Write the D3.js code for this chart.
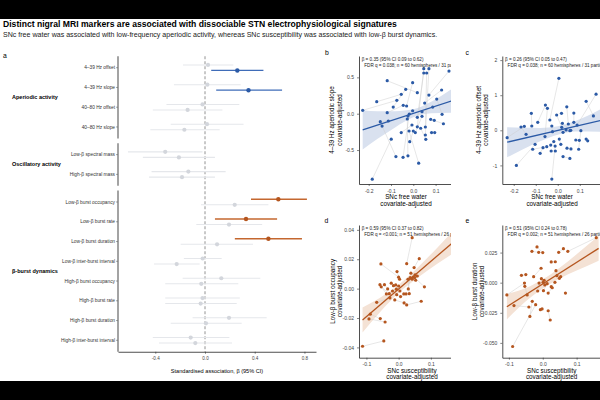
<!DOCTYPE html>
<html>
<head>
<meta charset="utf-8">
<script src="https://cdn.jsdelivr.net/npm/d3@7"></script>
<style>
  body { margin: 0; background: #fff; }
  svg { display: block; font-family: "Liberation Sans", Arial, Helvetica, sans-serif; }
</style>
</head>
<body>
<div id="chart"></div>
<script>
// Data: forest plot (panel a)
// ==============================================================================
var rowLabels = ["4–39 Hz offset", "4–39 Hz slope", "40–80 Hz offset", "40–80 Hz slope",
  "Low-β spectral mass", "High-β spectral mass",
  "Low-β burst occupancy", "Low-β burst rate", "Low-β burst duration", "Low-β inter-burst interval",
  "High-β burst occupancy", "High-β burst rate", "High-β burst duration", "High-β inter-burst interval"];
var rowGroup = [0, 0, 0, 0, 1, 1, 2, 2, 2, 2, 2, 2, 2, 2];
var groupLabels = ["Aperiodic activity", "Oscillatory activity", "β-burst dynamics"];

// SNc susceptibility (upper of each pair)
var suscEst = [0.024, 0.019, -0.02, 0.016, -0.32, -0.134, 0.59, 0.33, 0.51, -0.019, 0.131, -0.02, 0.193, -0.115];
var suscLo  = [-0.177, -0.25, -0.31, -0.276, -0.62, -0.43, 0.37, 0.08, 0.24, -0.17, -0.18, -0.32, -0.10, -0.42];
var suscHi  = [0.228, 0.287, 0.276, 0.31, -0.02, 0.166, 0.82, 0.58, 0.78, 0.134, 0.445, 0.28, 0.496, 0.196];
var suscSig = [0, 0, 0, 0, 0, 0, 1, 1, 1, 0, 0, 0, 0, 0];

// SNc free water (lower of each pair)
var fwEst = [0.26, 0.35, -0.14, -0.166, -0.21, -0.185, 0.239, 0.193, 0.097, -0.228, -0.03, -0.035, 0.008, -0.078];
var fwLo  = [0.05, 0.09, -0.42, -0.44, -0.50, -0.45, -0.032, -0.07, -0.196, -0.41, -0.32, -0.32, -0.276, -0.37];
var fwHi  = [0.47, 0.62, 0.14, 0.118, 0.08, 0.08, 0.51, 0.46, 0.386, -0.043, 0.268, 0.255, 0.295, 0.217];
var fwSig = [1, 1, 0, 0, 0, 0, 0, 0, 0, 0, 0, 0, 0, 0];

var forestTicks = [-0.4, 0, 0.4, 0.8];

// Data: panel b (free water vs 4-39 Hz slope)
// ==============================================================================
var bX = [-0.227, -0.164, -0.117, -0.117, -0.148, -0.14, -0.112, -0.099, -0.09, -0.074, -0.054, -0.045, -0.034, -0.03,
  -0.054, -0.078, -0.046, -0.024, -0.184, -0.018, -0.024, -0.027, -0.019, -0.016, -0.003, -0.003, 0.018, -0.006, 0,
  0.009, 0.024, 0.018, 0.018, 0.033, 0.039, 0.039, 0.047, 0.06, 0.047, 0.07, 0.051, 0.054, 0.054, 0.056, 0.07, 0.078,
  0.087, 0.082, 0.096, 0.094, 0.105, 0.127, 0.129, 0.135, 0.16];
var bY = [0.047, 0.165, 0.454, 0.014, -0.11, -0.17, -0.1, -0.35, 0.092, 0.184, 0.267, 0.116, 0.336, 0.106, -0.26,
  -0.59, -0.6, -0.58, -0.9, -0.004, -0.032, -0.073, -0.238, -0.385, 0.041, 0.427, 0.289, -0.155, -0.238, -0.26, -0.68,
  -0.05, -0.18, -0.2, -0.036, 0.028, 0.56, 0.56, 0.62, 0.62, 0.147, -0.183, -0.293, -0.352, 0.257, -0.077, 0.092,
  -0.26, -0.26, -0.091, 0.202, 0.326, -0.008, -0.138, 0.587];
var bPairs = [[0, 9], [18, 7], [2, 26], [36, 31], [38, 32], [37, 41], [39, 42], [30, 22], [16, 19], [15, 5], [17, 21],
  [54, 44], [25, 13], [11, 3], [10, 1], [47, 48], [45, 53], [50, 52], [33, 43], [35, 46], [40, 51], [24, 20], [23, 28],
  [29, 34], [27, 14], [6, 4], [8, 12]];
var bFitX = [-0.227, 0.17], bFitY = [-0.222, 0.175];
var bBandX  = [-0.227, -0.16, -0.08, 0.0, 0.08, 0.17];
var bBandLo = [-0.492, -0.345, -0.185, -0.05, 0.005, 0.015];
var bBandHi = [0.048, 0.035, 0.035, 0.06, 0.165, 0.335];

// Data: panel c (free water vs 4-39 Hz offset)
// ==============================================================================
var cX = [-0.23, -0.188, -0.167, -0.152, -0.144, -0.12, -0.118, -0.114, -0.103, -0.091, -0.08, -0.067, -0.056, -0.047,
  -0.058, -0.05, -0.036, -0.032, -0.03, -0.027, -0.027, -0.024, -0.018, -0.012, -0.011, -0.005, 0.005, 0.007, 0.014,
  0.017, 0.018, 0.021, 0.024, 0.024, 0.038, 0.041, 0.042, 0.048, 0.055, 0.055, 0.059, 0.06, 0.073, 0.073, 0.082, 0.088,
  0.098, 0.095, 0.105, 0.129, 0.129, 0.136, 0.162, 0.174];
var cY = [-0.21, -1.0, 0.094, 0.114, -0.114, 0.484, 0.122, -0.54, -0.4, 0.228, -0.655, -0.496, 0.72, 0.627, -0.18,
  -0.467, 0.293, -0.42, -0.59, -1.39, 0.122, -0.04, -0.32, -0.45, -0.59, 0.436, 1.48, -0.25, -0.4, 0.484, 0.085, 0.2,
  -0.057, -0.75, 0.01, 0.67, -0.51, 0.18, -0.01, -0.8, 0.0, -0.53, 0.228, 0.49, -0.276, 0.15, -0.285, -0.54, -0.01,
  0.826, -0.25, -0.3, 0.41, 1.03];
var cPairs = [[0, 3], [1, 8], [26, 16], [12, 9], [13, 14], [19, 23], [49, 52], [53, 45], [35, 37], [5, 6], [10, 11],
  [7, 15], [17, 22], [18, 24], [25, 30], [27, 28], [31, 40], [33, 39], [36, 41], [42, 43], [44, 46], [47, 48], [50, 51],
  [32, 34], [20, 21], [2, 4]];
var cFitX = [-0.23, 0.2], cFitY = [-0.34, 0.288];
var cBandX  = [-0.23, -0.16, -0.08, 0.0, 0.08, 0.2];
var cBandLo = [-0.77, -0.548, -0.311, -0.124, -0.037, -0.042];
var cBandHi = [0.09, 0.072, 0.069, 0.116, 0.263, 0.618];

// Data: panel d (susceptibility vs low-beta burst occupancy)
// ==============================================================================
var dX = [-0.112, -0.092, -0.088, -0.068, -0.057, -0.055, -0.058, -0.054, -0.046, -0.042, -0.044, -0.038, -0.034,
  -0.029, -0.027, -0.023, -0.019, -0.016, -0.012, -0.009, -0.007, -0.005, -0.006, 0.0, 0.003, 0.0, 0.004, 0.006, 0.016,
  0.017, 0.023, 0.025, 0.025, 0.029, 0.03, 0.033, 0.036, 0.038, 0.042, 0.042, 0.045, 0.048, 0.05, 0.051, 0.053, 0.058,
  0.064, 0.07, 0.08];
var dY = [-0.0392, -0.0206, -0.0174, -0.0093, -0.0204, 0.0168, 0.0027, 0.0012, -0.0356, -0.0227, 0.0027, -0.0036,
  -0.0002, -0.0034, -0.0063, 0.0037, -0.0016, 0.002, -0.0077, 0.0025, -0.0004, 0.0116, -0.0041, 0.0078, 0.0064, 0.0018,
  -0.0016, -0.0054, -0.0036, -0.0097, -0.0036, 0.017, -0.0111, 0.0064, -0.0002, -0.0034, 0.0075, 0.0105, 0.0347,
  0.0064, 0.0078, 0.0143, 0.0075, 0.0093, 0.0057, 0.0086, 0.0204, -0.0086, 0.0012];
var dPairs = [[0, 8], [5, 23], [38, 31], [46, 41], [2, 4], [1, 9], [3, 14], [6, 11], [7, 13], [10, 12], [15, 17],
  [16, 20], [18, 29], [21, 24], [22, 27], [25, 26], [28, 30], [32, 47], [33, 35], [34, 36], [37, 43], [39, 44], [40, 45],
  [42, 48]];
var dFitX = [-0.112, 0.19], dFitY = [-0.0213, 0.0355];
var dBandX  = [-0.112, -0.06, 0.0, 0.06, 0.12, 0.19];
var dBandLo = [-0.0298, -0.0165, -0.003, 0.0076, 0.0169, 0.027];
var dBandHi = [-0.0128, -0.0065, 0.0026, 0.0146, 0.0279, 0.044];

// Data: panel e (susceptibility vs low-beta burst duration)
// ==============================================================================
var eX = [-0.106, -0.089, -0.085, -0.063, -0.054, -0.053, -0.05, -0.046, -0.041, -0.038, -0.032, -0.031, -0.027,
  -0.021, -0.017, -0.015, -0.012, -0.011, -0.007, -0.005, -0.004, -0.002, 0.0, 0.001, 0.004, 0.006, 0.002, 0.013, 0.016,
  0.016, 0.022, 0.025, 0.025, 0.028, 0.036, 0.037, 0.039, 0.042, 0.047, 0.049, 0.053, 0.061, 0.067, 0.074, 0.158];
var eY = [-0.0102, -0.053, -0.019, 0.0061, -0.0003, -0.003, 0.0067, -0.0102, -0.0202, -0.028, 0.026, -0.0155, 0.005,
  -0.0183, 0.0297, -0.0069, 0.0252, -0.0003, -0.0224, 0.012, 0.0033, -0.0218, 0.025, 0.0003, 0.002, -0.0019, -0.0066,
  -0.0008, -0.0086, -0.0233, -0.031, 0.0172, -0.0033, -0.0042, 0.0003, 0.0174, 0.01, 0.0058, 0.0252, 0.0036, 0.005,
  0.0282, -0.0086, 0.026, 0.0374];
var ePairs = [[1, 13], [0, 4], [10, 16], [14, 22], [44, 43], [38, 41], [35, 31], [2, 8], [3, 6], [5, 7], [9, 11],
  [12, 19], [15, 17], [18, 21], [20, 23], [24, 25], [26, 27], [28, 33], [29, 30], [32, 34], [36, 37], [39, 40]];
var eFitX = [-0.106, 0.165], eFitY = [-0.02, 0.0285];
var eBandX  = [-0.106, -0.05, 0.0, 0.05, 0.1, 0.165];
var eBandLo = [-0.0305, -0.0155, -0.0048, 0.0035, 0.0101, 0.0183];
var eBandHi = [-0.0095, -0.0045, 0.0028, 0.0125, 0.0237, 0.0387];

// Colours
var blue = "#2b5aa6", blueCI = "#3f6cb8", blueBand = "#d9e1ef";
var orange = "#b5561f", orangeCI = "#c4672f", orangeBand = "#f4e2d5";
var grayPt = "#d3d6dc", grayCI = "#e5e7eb";

// Step 1: Set up canvas
// ==============================================================================
var svgWidth = 600, svgHeight = 400;
var svg = d3.select("#chart").append("svg")
  .attr("width", svgWidth)
  .attr("height", svgHeight);

svg.append("rect").attr("width", svgWidth).attr("height", svgHeight).attr("fill", "#fff");

// letterbox bars seen in the figure
svg.append("rect").attr("x", 0).attr("y", 0).attr("width", svgWidth).attr("height", 19).attr("fill", "#000");
svg.append("rect").attr("x", 0).attr("y", 381).attr("width", svgWidth).attr("height", 19).attr("fill", "#000");

// fit a text line to a target width
function fitWidth(sel, target) {
  var len = sel.node().getComputedTextLength();
  var fs = parseFloat(sel.attr("font-size"));
  sel.attr("font-size", fs * target / len);
}

var title = svg.append("text")
  .attr("x", 3).attr("y", 27)
  .attr("font-size", 8.6).attr("font-weight", "bold").attr("fill", "#000")
  .text("Distinct nigral MRI markers are associated with dissociable STN electrophysiological signatures");
fitWidth(title, 394);

var subtitle = svg.append("text")
  .attr("x", 3).attr("y", 36.6)
  .attr("font-size", 6.2).attr("fill", "#222")
  .text("SNc free water was associated with low-frequency aperiodic activity, whereas SNc susceptibility was associated with low-β burst dynamics.");
fitWidth(subtitle, 434);

// panel letters
[["a", 3, 58], ["b", 325, 55], ["c", 465.5, 55], ["d", 324.5, 222.5], ["e", 465.5, 222.5]].forEach(function(p) {
  svg.append("text").attr("x", p[1]).attr("y", p[2]).attr("font-size", 6.8).attr("fill", "#000").text(p[0]);
});

// Step 2: Forest plot (panel a)
// ==============================================================================
var fx = d3.scaleLinear().domain([-0.70, 0.893]).range([118, 316]);
var slot = rowLabels.map(function(d, i) { return i + rowGroup[i] * 0.4; });
var fy = d3.scaleLinear().domain([0, d3.max(slot)]).range([67.7, 340.3]);
var pad = 0.58, dodge = 0.14;
var forestBottom = fy(d3.max(slot) + pad);

var forest = svg.append("g");

// zero reference line
forest.append("line")
  .attr("x1", fx(0)).attr("x2", fx(0))
  .attr("y1", fy(-pad)).attr("y2", forestBottom)
  .attr("stroke", "#777").attr("stroke-width", 0.8).attr("stroke-dasharray", "3,2");

// estimates
var items = [];
rowLabels.forEach(function(lab, i) {
  items.push({ pos: slot[i] - dodge, est: suscEst[i], lo: suscLo[i], hi: suscHi[i], sig: suscSig[i], series: "susc" });
  items.push({ pos: slot[i] + dodge, est: fwEst[i], lo: fwLo[i], hi: fwHi[i], sig: fwSig[i], series: "fw" });
});
items.sort(function(a, b) { return a.sig - b.sig; });

function ciColor(d) { return d.sig ? (d.series === "fw" ? blueCI : orangeCI) : grayCI; }
function ptColor(d) { return d.sig ? (d.series === "fw" ? blue : orange) : grayPt; }

forest.selectAll(".ci").data(items).enter().append("line")
  .attr("x1", function(d) { return fx(d.lo); })
  .attr("x2", function(d) { return fx(d.hi); })
  .attr("y1", function(d) { return fy(d.pos); })
  .attr("y2", function(d) { return fy(d.pos); })
  .attr("stroke", ciColor)
  .attr("stroke-width", function(d) { return d.sig ? 1.3 : 1.1; });

forest.selectAll(".pt").data(items).enter().append("circle")
  .attr("cx", function(d) { return fx(d.est); })
  .attr("cy", function(d) { return fy(d.pos); })
  .attr("r", function(d) { return d.sig ? 2.2 : 2.1; })
  .attr("fill", ptColor);

// y axis, one segment per group
groupLabels.forEach(function(g, gi) {
  var idx = rowGroup.map(function(v, i) { return v === gi ? i : -1; }).filter(function(i) { return i >= 0; });
  var top = fy(slot[idx[0]] - pad);
  var bot = gi === groupLabels.length - 1 ? forestBottom : fy(slot[idx[idx.length - 1]] + pad);
  forest.append("line")
    .attr("x1", 118).attr("x2", 118).attr("y1", top).attr("y2", bot)
    .attr("stroke", "#666").attr("stroke-width", 1.2);
  forest.append("text")
    .attr("x", 12)
    .attr("y", fy((slot[idx[0]] + slot[idx[idx.length - 1]]) / 2))
    .attr("dy", "0.35em")
    .attr("font-size", 5.5).attr("font-weight", "bold").attr("fill", "#000")
    .text(g);
});

forest.selectAll(".rowlab").data(rowLabels).enter().append("text")
  .attr("x", 115)
  .attr("y", function(d, i) { return fy(slot[i]); })
  .attr("dy", "0.35em")
  .attr("text-anchor", "end")
  .attr("font-size", 4.8).attr("fill", "#333")
  .text(function(d) { return d; });

forest.selectAll(".rowtick").data(rowLabels).enter().append("line")
  .attr("x1", 116).attr("x2", 118)
  .attr("y1", function(d, i) { return fy(slot[i]); })
  .attr("y2", function(d, i) { return fy(slot[i]); })
  .attr("stroke", "#666").attr("stroke-width", 0.6);

var fAxis = forest.append("g")
  .attr("transform", "translate(0," + forestBottom + ")")
  .call(d3.axisBottom(fx).tickValues(forestTicks).tickSize(2).tickSizeOuter(0)
    .tickFormat(function(d) { return d3.format(".1f")(d).replace("−", "-"); }));
fAxis.select(".domain").attr("stroke", "#222").attr("stroke-width", 0.8);
fAxis.selectAll(".tick line").attr("stroke", "#333").attr("stroke-width", 0.6);
fAxis.selectAll(".tick text").attr("font-size", 4.6).attr("fill", "#444").attr("font-family", null);

forest.append("text")
  .attr("x", 217).attr("y", 373)
  .attr("text-anchor", "middle")
  .attr("font-size", 5.6).attr("fill", "#000")
  .text("Standardised association, β (95% CI)");

// Step 3: Scatter panels (b-e)
// ==============================================================================
function scatter(cfg) {
  var x = d3.scaleLinear().domain(cfg.xDomain).range([cfg.left, cfg.right]);
  var y = d3.scaleLinear().domain(cfg.yDomain).range([cfg.bottom, cfg.top]);
  var g = svg.append("g");
  if (cfg.clipRight) {
    var id = "clip-" + cfg.name;
    svg.append("clipPath").attr("id", id).append("rect")
      .attr("x", cfg.left - 80).attr("y", cfg.top - 20)
      .attr("width", cfg.clipRight - cfg.left + 80).attr("height", cfg.bottom - cfg.top + 50);
    g.attr("clip-path", "url(#" + id + ")");
  }

  var band = cfg.bandX.map(function(v, i) { return { x: v, lo: cfg.bandLo[i], hi: cfg.bandHi[i] }; });
  g.append("path").datum(band)
    .attr("d", d3.area().curve(d3.curveMonotoneX)
      .x(function(d) { return x(d.x); })
      .y0(function(d) { return y(d.lo); })
      .y1(function(d) { return y(d.hi); }))
    .attr("fill", cfg.bandColor);

  g.selectAll(".pair").data(cfg.pairs).enter().append("line")
    .attr("x1", function(p) { return x(cfg.xs[p[0]]); })
    .attr("y1", function(p) { return y(cfg.ys[p[0]]); })
    .attr("x2", function(p) { return x(cfg.xs[p[1]]); })
    .attr("y2", function(p) { return y(cfg.ys[p[1]]); })
    .attr("stroke", "#cfcfcf").attr("stroke-width", 0.5);

  g.append("line")
    .attr("x1", x(cfg.fitX[0])).attr("y1", y(cfg.fitY[0]))
    .attr("x2", x(cfg.fitX[1])).attr("y2", y(cfg.fitY[1]))
    .attr("stroke", cfg.color).attr("stroke-width", 1.3);

  g.selectAll(".dot").data(cfg.xs).enter().append("circle")
    .attr("cx", function(d) { return x(d); })
    .attr("cy", function(d, i) { return y(cfg.ys[i]); })
    .attr("r", 1.6)
    .attr("fill", cfg.color);

  // axes
  var xa = g.append("g").attr("transform", "translate(0," + cfg.bottom + ")")
    .call(d3.axisBottom(x).tickValues(cfg.xTicks).tickSize(2).tickSizeOuter(0)
      .tickFormat(function(d) { return d3.format(".1f")(d).replace("−", "-"); }));
  var ya = g.append("g").attr("transform", "translate(" + cfg.left + ",0)")
    .call(d3.axisLeft(y).tickValues(cfg.yTicks).tickSize(2).tickSizeOuter(0)
      .tickFormat(function(d) { return d3.format(cfg.yFmt)(d).replace("−", "-"); }));
  [xa, ya].forEach(function(a) {
    a.select(".domain").attr("stroke", "#222").attr("stroke-width", 0.8);
    a.selectAll(".tick line").attr("stroke", "#333").attr("stroke-width", 0.6);
    a.selectAll(".tick text").attr("font-size", 5).attr("fill", "#444").attr("font-family", null);
  });

  // annotation
  g.append("text").attr("x", cfg.left + 2.7).attr("y", cfg.top + 5.4)
    .attr("font-size", 4.6).attr("fill", "#222").text(cfg.note1);
  g.append("text").attr("x", cfg.left + 5.3).attr("y", cfg.top + 10.8)
    .attr("font-size", 4.6).attr("fill", "#222").text(cfg.note2);

  // axis titles
  var cx = (cfg.left + cfg.right) / 2;
  g.append("text").attr("x", cx).attr("y", cfg.bottom + 15)
    .attr("text-anchor", "middle").attr("font-size", 6.3).attr("fill", "#000").text(cfg.xTitle);
  g.append("text").attr("x", cx).attr("y", cfg.bottom + 21.5)
    .attr("text-anchor", "middle").attr("font-size", 6.3).attr("fill", "#000").text("covariate-adjusted");

  var cy = (cfg.top + cfg.bottom) / 2;
  [[cfg.yTitle, cfg.yTitleX[0]], ["covariate-adjusted", cfg.yTitleX[1]]].forEach(function(t) {
    svg.append("text")
      .attr("transform", "translate(" + (cfg.left + t[1]) + "," + cy + ") rotate(-90)")
      .attr("text-anchor", "middle").attr("dy", "0.35em")
      .attr("font-size", 6.3).attr("fill", "#000")
      .text(t[0]);
  });
}

scatter({
  name: "b", left: 359, right: 453, top: 56, bottom: 184, clipRight: 451,
  xDomain: [-0.2435, 0.178], yDomain: [-0.967, 0.794],
  xs: bX, ys: bY, pairs: bPairs, fitX: bFitX, fitY: bFitY,
  bandX: bBandX, bandLo: bBandLo, bandHi: bBandHi,
  color: blue, bandColor: blueBand,
  xTicks: [-0.2, -0.1, 0, 0.1], yTicks: [-0.5, 0, 0.5], yFmt: ".1f",
  note1: "β = 0.35 (95% CI 0.09 to 0.62)",
  note2: "FDR q = 0.038; n = 60 hemispheres / 31 participants",
  xTitle: "SNc free water", yTitle: "4–39 Hz aperiodic slope", yTitleX: [-27.3, -19.7]
});

scatter({
  name: "c", left: 502.3, right: 602, top: 56, bottom: 184,
  xDomain: [-0.252, 0.201], yDomain: [-1.53, 2.117],
  xs: cX, ys: cY, pairs: cPairs, fitX: cFitX, fitY: cFitY,
  bandX: cBandX, bandLo: cBandLo, bandHi: cBandHi,
  color: blue, bandColor: blueBand,
  xTicks: [-0.2, -0.1, 0, 0.1], yTicks: [-1, 0, 1, 2], yFmt: "d",
  note1: "β = 0.26 (95% CI 0.05 to 0.47)",
  note2: "FDR q = 0.038; n = 60 hemispheres / 31 participants",
  xTitle: "SNc free water", yTitle: "4–39 Hz aperiodic offset", yTitleX: [-24, -16.3]
});

scatter({
  name: "d", left: 359, right: 465, top: 225, bottom: 357.7, clipRight: 451,
  xDomain: [-0.123, 0.206], yDomain: [-0.047, 0.0433],
  xs: dX, ys: dY, pairs: dPairs, fitX: dFitX, fitY: dFitY,
  bandX: dBandX, bandLo: dBandLo, bandHi: dBandHi,
  color: orange, bandColor: orangeBand,
  xTicks: [-0.1, 0, 0.1], yTicks: [-0.04, -0.02, 0, 0.02, 0.04], yFmt: ".2f",
  note1: "β = 0.59 (95% CI 0.37 to 0.82)",
  note2: "FDR q = <0.001; n = 51 hemispheres / 26 participants",
  xTitle: "SNc susceptibility", yTitle: "Low-β burst occupancy", yTitleX: [-26.7, -19]
});

scatter({
  name: "e", left: 502.3, right: 601, top: 225, bottom: 357.7,
  xDomain: [-0.1195, 0.172], yDomain: [-0.0623, 0.0479],
  xs: eX, ys: eY, pairs: ePairs, fitX: eFitX, fitY: eFitY,
  bandX: eBandX, bandLo: eBandLo, bandHi: eBandHi,
  color: orange, bandColor: orangeBand,
  xTicks: [-0.1, 0, 0.1], yTicks: [-0.05, -0.025, 0, 0.025], yFmt: ".3f",
  note1: "β = 0.51 (95% CI 0.24 to 0.78)",
  note2: "FDR q = 0.002; n = 51 hemispheres / 26 participants",
  xTitle: "SNc susceptibility", yTitle: "Low-β burst duration", yTitleX: [-27.3, -20.3]
});

// bottom bar drawn last so the cut-off titles sit beneath it
svg.append("rect").attr("x", 0).attr("y", 381).attr("width", svgWidth).attr("height", 19).attr("fill", "#000");
</script>
</body>
</html>
